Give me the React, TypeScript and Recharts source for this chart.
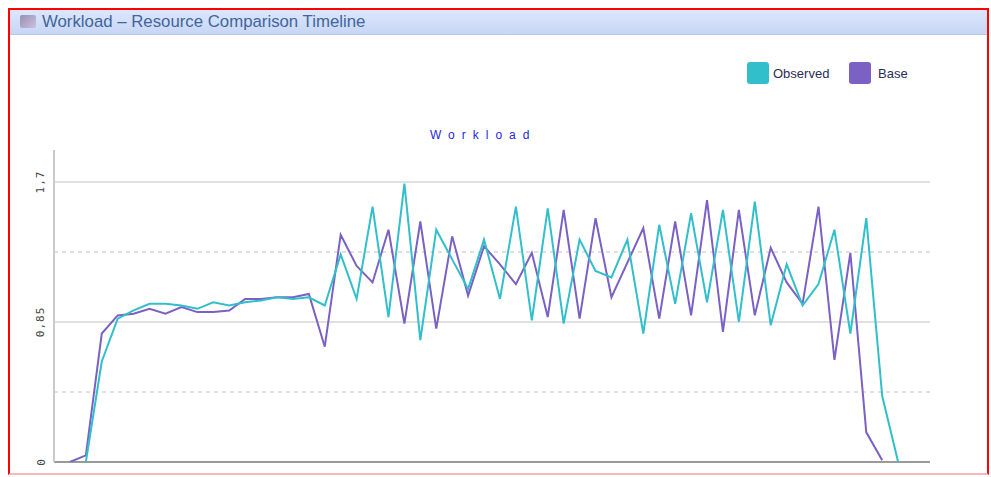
import { LineChart, Line, XAxis, YAxis, ReferenceLine } from "recharts";

// sample index along the timeline
const steps = Array.from({ length: 53 }, (_, i) => i);

const observed: (number | null)[] = [
  null, 0, 0.61, 0.87, 0.92, 0.96, 0.96, 0.95, 0.93, 0.97,
  0.95, 0.97, 0.98, 1.0, 0.99, 1.0, 0.95, 1.26, 0.99, 1.55,
  0.88, 1.69, 0.74, 1.41, 1.23, 1.05, 1.35, 0.99, 1.55, 0.86,
  1.54, 0.84, 1.35, 1.16, 1.12, 1.35, 0.78, 1.44, 0.96, 1.51,
  0.97, 1.53, 0.85, 1.58, 0.83, 1.2, 0.95, 1.08, 1.41, 0.78,
  1.48, 0.4, 0,
];

const base: (number | null)[] = [
  0, 0.04, 0.78, 0.89, 0.9, 0.93, 0.9, 0.94, 0.91, 0.91,
  0.92, 0.99, 0.99, 1.0, 1.0, 1.02, 0.7, 1.38, 1.19, 1.09,
  1.41, 0.84, 1.46, 0.81, 1.37, 1.01, 1.31, 1.2, 1.08, 1.27,
  0.88, 1.53, 0.87, 1.48, 1.0, 1.21, 1.42, 0.87, 1.46, 0.89,
  1.59, 0.79, 1.53, 0.89, 1.3, 1.09, 0.96, 1.55, 0.62, 1.27,
  0.18, 0.01, null,
];

const yTicks = [0, 0.85, 1.7];
const dashedLines = [0.425, 1.275];

const series = [
  { key: "observed", name: "Observed", color: "#31bfcb" },
  { key: "base", name: "Base", color: "#7b61c4" },
];

const data = steps.map((t, i) => ({ t, observed: observed[i], base: base[i] }));

// the frame is wider than the default body box, so drop the body margin
document.body.style.margin = "0";

function YTick(props: any) {
  const { y, payload } = props;
  const label = String(payload.value).replace(".", ",");
  return (
    <text
      x={31}
      y={y}
      transform={`rotate(-90, 31, ${y})`}
      textAnchor="middle"
      dominantBaseline="central"
      fontFamily="DejaVu Sans Mono"
      fontSize={11}
      fill="#444"
      letterSpacing={1}
    >
      {label}
    </text>
  );
}

function LegendBox() {
  return (
    <div style={{ display: "flex", fontFamily: "Liberation Sans", fontSize: 13, color: "#2a2d55" }}>
      {series.map((s, i) => (
        <div key={s.key} style={{ display: "flex", alignItems: "center", width: i === 0 ? 102 : 70 }}>
          <div style={{ width: 22, height: 22, borderRadius: 3, background: s.color, marginRight: i === 0 ? 4 : 7 }} />
          <span>{s.name}</span>
        </div>
      ))}
    </div>
  );
}

export default function App() {
  return (
    <div style={{ width: 991, height: 477, paddingLeft: 8, paddingTop: 8, boxSizing: "border-box" }}>
      <div
        style={{
          position: "relative",
          width: 981,
          height: 467,
          border: "2px solid #f00",
          borderBottomColor: "#f6b8b8",
          boxSizing: "border-box",
          background: "#fff",
        }}
      >
        <div
          style={{
            position: "absolute",
            left: 0,
            top: 0,
            width: 977,
            height: 24,
            background: "linear-gradient(#dde7fc, #c7d6f6)",
            borderBottom: "1px solid #b9c9ec",
            fontFamily: "Liberation Sans",
            fontSize: 16.8,
            lineHeight: "24px",
            color: "#41659b",
          }}
        >
          <div
            style={{
              position: "absolute",
              left: 10,
              top: 5,
              width: 16,
              height: 13,
              background: "linear-gradient(135deg, #9a8fb5, #c9c2dc)",
              borderRadius: 2,
            }}
          />
          <span style={{ position: "absolute", left: 32, top: 0 }}>Workload – Resource Comparison Timeline</span>
        </div>

        <div style={{ position: "absolute", left: 737, top: 52 }}>
          <LegendBox />
        </div>

        <div
          style={{
            position: "absolute",
            left: 420,
            top: 118,
            fontFamily: "Liberation Sans",
            fontSize: 12,
            lineHeight: "14px",
            letterSpacing: 7,
            color: "#2626e0",
          }}
        >
          Workload
        </div>

        <div style={{ position: "absolute", left: 0, top: 0 }}>
          <LineChart width={960} height={455} data={data} margin={{ top: 140, right: 40, bottom: 3, left: 14 }}>
            <XAxis dataKey="t" type="number" domain={[-1, 54]} hide />
            <YAxis
              type="number"
              domain={[0, 1.894]}
              ticks={yTicks}
              interval={0}
              width={30}
              allowDataOverflow
              axisLine={{ stroke: "#cbcbcb", strokeWidth: 2 }}
              tickLine={false}
              tick={<YTick />}
            />
            {dashedLines.map((v) => (
              <ReferenceLine key={v} y={v} stroke="#d6d6d6" strokeDasharray="4 4" strokeWidth={1.5} />
            ))}
            {yTicks.slice(1).map((v) => (
              <ReferenceLine key={v} y={v} stroke="#e0e0e0" strokeWidth={2} />
            ))}
            <ReferenceLine y={0} stroke="#9a9a9a" strokeWidth={2} />
            <Line
              dataKey="base"
              name="Base"
              stroke={series[1].color}
              strokeWidth={2}
              dot={false}
              isAnimationActive={false}
            />
            <Line
              dataKey="observed"
              name="Observed"
              stroke={series[0].color}
              strokeWidth={2}
              dot={false}
              isAnimationActive={false}
            />
          </LineChart>
        </div>
      </div>
    </div>
  );
}
